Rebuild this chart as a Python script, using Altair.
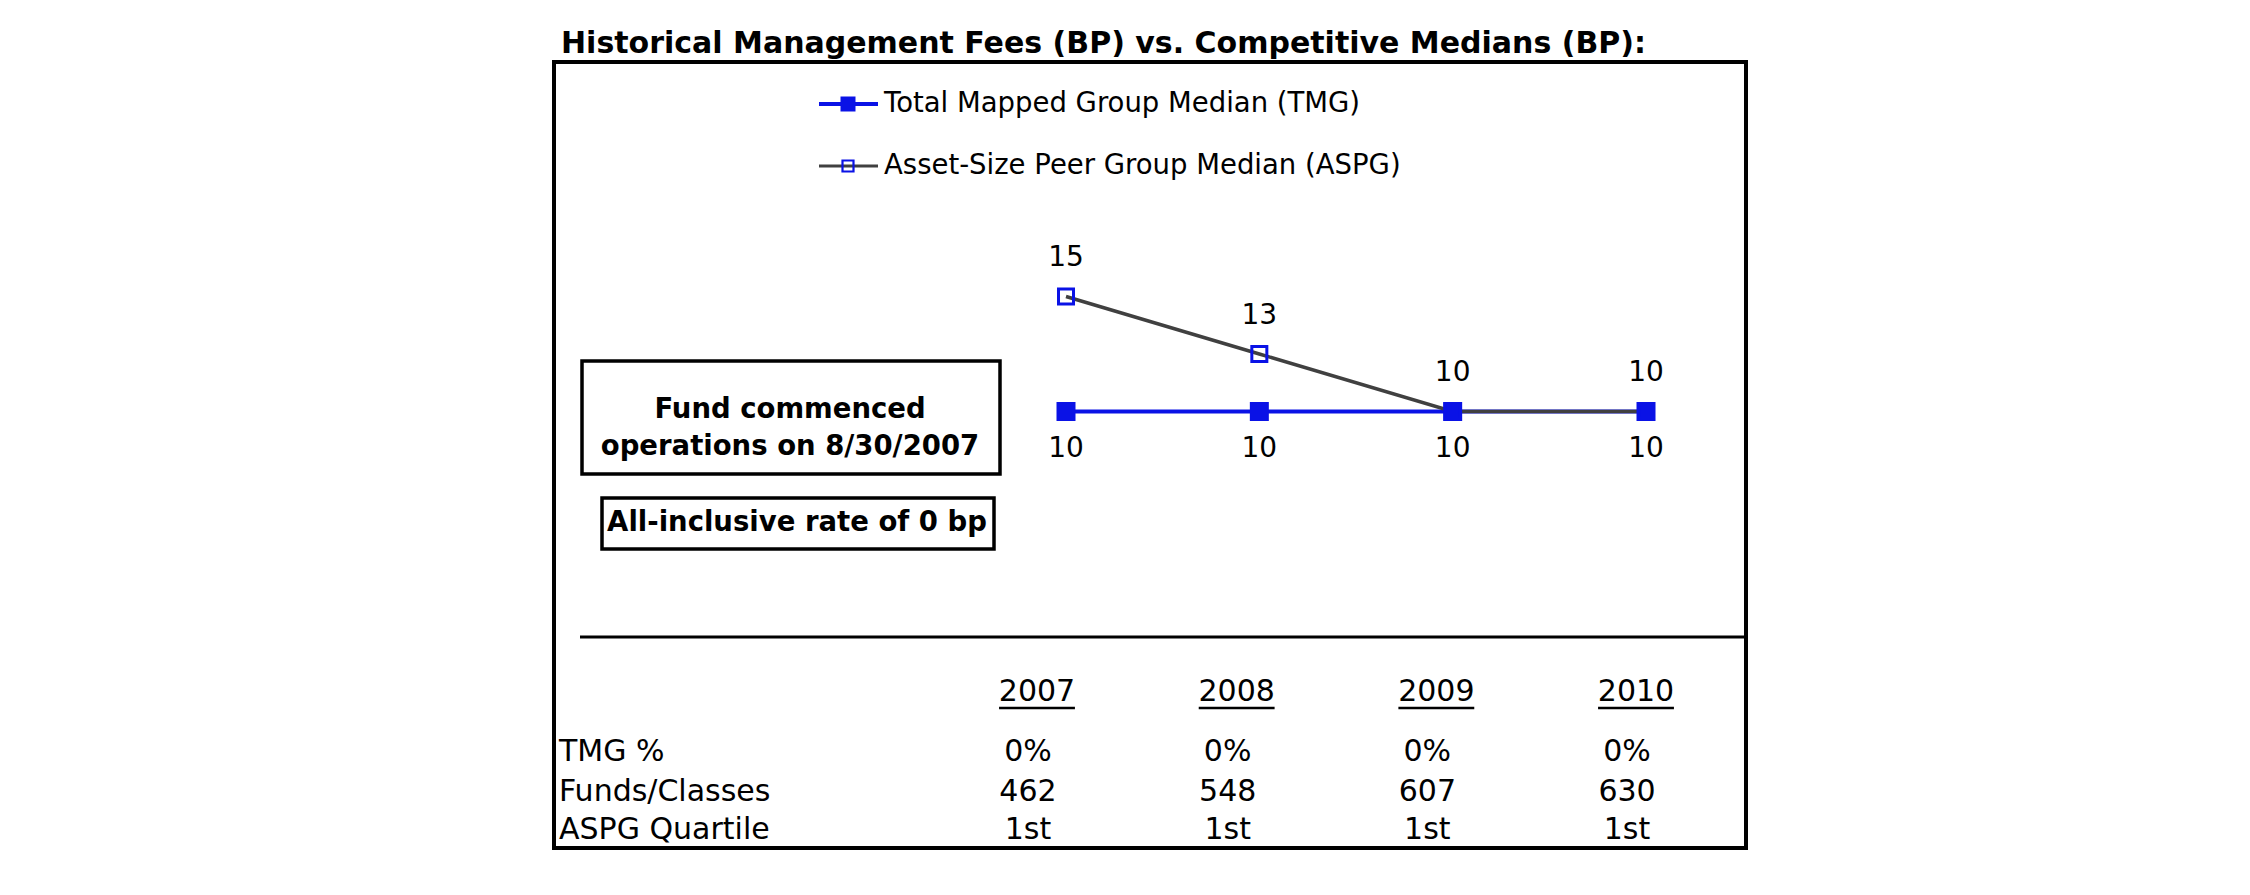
import altair as alt
import pandas as pd

# ---------------- data ----------------
years = [2007, 2008, 2009, 2010]
tmg_values = [10, 10, 10, 10]
aspg_values = [15, 12.5, 10, 10]
tmg_labels = ["10", "10", "10", "10"]
aspg_labels = ["15", "13", "10", "10"]

series_names = ["Total Mapped Group Median (TMG)", "Asset-Size Peer Group Median (ASPG)"]

row_labels = ["TMG %", "Funds/Classes", "ASPG Quartile"]
tmg_pct = ["0%", "0%", "0%", "0%"]
funds_classes = ["462", "548", "607", "630"]
aspg_quartile = ["1st", "1st", "1st", "1st"]

title_text = "Historical Management Fees (BP) vs. Competitive Medians (BP):"
note_lines = ["Fund commenced", "operations on 8/30/2007"]
note_rate = "All-inclusive rate of 0 bp"

# ---------------- styling ----------------
W, H = 2250, 895
FONT = "DejaVu Sans"
BLUE = "#0a12e6"
GRAY = "#404040"
FS_LEG = 27.5
FS_PT = 28
FS_TAB = 30
FS_NOTE = 27.5

X_chart = alt.Scale(domain=[2001.4862, 2013.1241], nice=False, zero=False)
Y_chart = alt.Scale(domain=[-11.022, 27.891], nice=False, zero=False)
X_table = alt.Scale(domain=[2001.8064, 2013.0751], nice=False, zero=False)

df = pd.DataFrame({
    "year": years,
    "tmg": tmg_values,
    "aspg": aspg_values,
    "tmg_label": tmg_labels,
    "aspg_label": aspg_labels,
})
tdf = pd.DataFrame({
    "year": years,
    "pct": tmg_pct,
    "funds": funds_classes,
    "quart": aspg_quartile,
})
one = pd.DataFrame({"k": [0]})

xc = alt.X("year:Q", scale=X_chart, axis=None)
y_tmg = alt.Y("tmg:Q", scale=Y_chart, axis=None)
y_aspg = alt.Y("aspg:Q", scale=Y_chart, axis=None)
xt = alt.X("year:Q", scale=X_table, axis=None)

base = alt.Chart(df)

tmg_line = base.mark_line(color=BLUE, strokeWidth=4).encode(x=xc, y=y_tmg)
aspg_line = base.mark_line(color=GRAY, strokeWidth=3.5).encode(x=xc, y=y_aspg)
tmg_pts = base.mark_point(shape="square", filled=True, color=BLUE, size=361, opacity=1).encode(x=xc, y=y_tmg)
aspg_pts = base.mark_point(shape="square", filled=False, color=BLUE, strokeWidth=3, size=225, opacity=1).encode(x=xc, y=y_aspg)
aspg_txt = base.mark_text(dy=-38, fontSize=FS_PT, font=FONT, color="black", baseline="middle").encode(
    x=xc, y=y_aspg, text="aspg_label:N")
tmg_txt = base.mark_text(dy=38, fontSize=FS_PT, font=FONT, color="black", baseline="middle").encode(
    x=xc, y=y_tmg, text="tmg_label:N")

# legend (manual)
def legend_row(ypos, name, line_color, line_w, filled, msize, mstroke):
    rule = alt.Chart(one).mark_rule(color=line_color, strokeWidth=line_w).encode(
        x=alt.value(819), x2=alt.value(878), y=alt.value(ypos))
    if filled:
        pt = alt.Chart(one).mark_point(shape="square", filled=True, color=BLUE, size=msize, opacity=1).encode(
            x=alt.value(848), y=alt.value(ypos))
    else:
        pt = alt.Chart(one).mark_point(shape="square", filled=False, color=BLUE, strokeWidth=mstroke,
                                       size=msize, opacity=1).encode(x=alt.value(848), y=alt.value(ypos))
    txt = alt.Chart(one).mark_text(align="left", baseline="middle", fontSize=FS_LEG, font=FONT, color="black").encode(
        x=alt.value(884), y=alt.value(ypos), text=alt.value(name))
    return [rule, pt, txt]

legend_layers = legend_row(104, series_names[0], BLUE, 4, True, 225, 0) + \
    legend_row(166, series_names[1], GRAY, 3, False, 121, 2.2)

# frame and boxes
def box(x0, x1, y0, y1, sw):
    return alt.Chart(one).mark_rect(fillOpacity=0, stroke="black", strokeWidth=sw).encode(
        x=alt.value(x0), x2=alt.value(x1), y=alt.value(y0), y2=alt.value(y1))

frame = box(554, 1746, 62, 848, 4)
box1 = box(582, 1000, 361, 474, 3.5)
box2 = box(602, 994, 498, 549, 3.5)

def label(text, x, y, size, weight="normal", align="center"):
    return alt.Chart(one).mark_text(align=align, baseline="middle", fontSize=size, font=FONT,
                                    fontWeight=weight, color="black").encode(
        x=alt.value(x), y=alt.value(y), text=alt.value(text))

title = label(title_text, 561, 44, 30, weight="bold", align="left")
note1a = label(note_lines[0], 790, 410, FS_NOTE, weight="bold")
note1b = label(note_lines[1], 790, 447, FS_NOTE, weight="bold")
note2 = label(note_rate, 797, 523, FS_NOTE, weight="bold")

sep = alt.Chart(one).mark_rule(color="black", strokeWidth=3).encode(
    x=alt.value(580), x2=alt.value(1744), y=alt.value(637))

# table
tbase = alt.Chart(tdf)
headers = tbase.mark_text(fontSize=FS_TAB, font=FONT, color="black", baseline="middle").encode(
    x=xt, y=alt.value(692), text="year:N")
underline = tbase.transform_calculate(u0="datum.year - 0.19", u1="datum.year + 0.19").mark_rule(
    color="black", strokeWidth=2.5).encode(
    x=alt.X("u0:Q", scale=X_table, axis=None), x2="u1:Q", y=alt.value(708))
row_pct = tbase.mark_text(fontSize=FS_TAB, font=FONT, color="black", baseline="middle", dx=-9).encode(
    x=xt, y=alt.value(752), text="pct:N")
row_funds = tbase.mark_text(fontSize=FS_TAB, font=FONT, color="black", baseline="middle", dx=-9).encode(
    x=xt, y=alt.value(792), text="funds:N")
row_quart = tbase.mark_text(fontSize=FS_TAB, font=FONT, color="black", baseline="middle", dx=-9).encode(
    x=xt, y=alt.value(830), text="quart:N")
row_lbls = [label(t, 559, yy, FS_TAB, align="left") for t, yy in zip(row_labels, [752, 792, 830])]

chart = alt.layer(
    frame, title, *legend_layers, box1, box2, note1a, note1b, note2, sep,
    tmg_line, aspg_line, tmg_pts, aspg_pts, aspg_txt, tmg_txt,
    headers, underline, row_pct, row_funds, row_quart, *row_lbls,
).resolve_scale(x="independent").properties(
    width=W, height=H, padding=0, autosize=alt.AutoSizeParams(type="none"), background="white"
).configure_view(stroke=None)

chart.save("out.html", embed_options={"renderer": "svg", "actions": False})
